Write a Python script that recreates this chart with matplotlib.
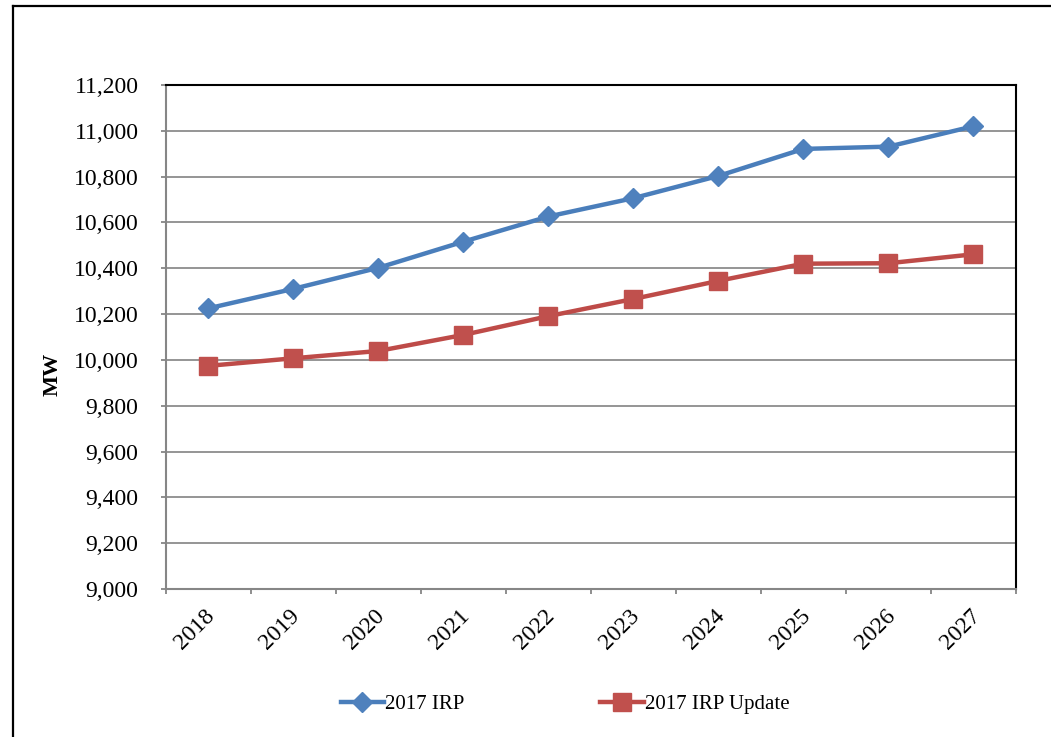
import matplotlib
matplotlib.use("Agg")
import matplotlib.pyplot as plt
from matplotlib.lines import Line2D
from matplotlib.ticker import FuncFormatter, FixedLocator
from matplotlib.transforms import ScaledTranslation

years = ["2018", "2019", "2020", "2021", "2022", "2023", "2024", "2025", "2026", "2027"]
irp_2017 = [10225, 10310, 10402, 10516, 10626, 10706, 10803, 10921, 10931, 11020]
irp_update = [9974, 10007, 10039, 10109, 10191, 10266, 10345, 10420, 10422, 10461]
series_names = ["2017 IRP", "2017 IRP Update"]
y_label = "MW"

plt.rcParams['font.family'] = ['Liberation Serif', 'DejaVu Serif']

W, H = 1051, 737
fig = plt.figure(figsize=(W / 100, H / 100), dpi=100)
ax = fig.add_axes([165.7 / W, 1 - 589 / H, (1016 - 165.7) / W, (589 - 85) / H])

x = list(range(len(years)))
blue = "#4A7EBB"
red = "#BE4B48"
l1, = ax.plot(x, irp_2017, color=blue, lw=3.2, marker='D', markersize=10.5,
              markerfacecolor="#4F81BD", markeredgecolor="#4F81BD", label=series_names[0], zorder=3)
l2, = ax.plot(x, irp_update, color=red, lw=3.2, marker='s', markersize=12.5,
              markerfacecolor="#C0504D", markeredgecolor="#C0504D", label=series_names[1], zorder=3)

ax.set_xlim(-0.5, len(years) - 0.5)
ax.set_ylim(9000, 11200)
ax.set_yticks(range(9000, 11201, 200))
ax.yaxis.set_major_formatter(FuncFormatter(lambda v, p: f"{int(v):,}"))
ax.grid(axis='y', color="#8C8C8C", lw=1.3)
ax.set_axisbelow(True)

# category boundaries as major ticks, labels at centers
ax.xaxis.set_major_locator(FixedLocator([i - 0.5 for i in range(len(years) + 1)]))
ax.set_xticklabels([""] * (len(years) + 1))
ax.set_xticks(x, minor=True)
ax.set_xticklabels(years, minor=True, rotation=45, ha='right', va='top',
                   rotation_mode='anchor', fontsize=17)
ax.tick_params(axis='x', which='minor', length=0, pad=12)
ax.tick_params(axis='x', which='major', length=3.6, color="#868686", width=1.3, direction='out')
ax.tick_params(axis='y', length=3.6, color="#868686", width=1.3, labelsize=17, pad=16)
for lab in ax.get_xticklabels(minor=True):
    lab.set_transform(lab.get_transform() + ScaledTranslation(-4 / 100, 0, fig.dpi_scale_trans))

for s in ['left', 'bottom']:
    ax.spines[s].set_color("#868686")
    ax.spines[s].set_linewidth(1.5)
for s in ['top', 'right']:
    ax.spines[s].set_color("#000000")
    ax.spines[s].set_linewidth(1.5)

ax.set_ylabel(y_label, fontsize=16, fontweight='bold')
ax.yaxis.set_label_coords(-0.121, 0.425)

fig.legend(handles=[l1, l2], loc='center', bbox_to_anchor=(565 / W, 1 - 704 / H),
           ncol=2, frameon=False, fontsize=15, handlelength=2.1, handletextpad=0.05,
           columnspacing=6.5)

# outer frame (cropped)
fig.add_artist(Line2D([13 / W, 13 / W], [0, 1 - 6 / H], transform=fig.transFigure,
                      color='black', lw=1.6))
fig.add_artist(Line2D([13 / W, 1], [1 - 6 / H, 1 - 6 / H], transform=fig.transFigure,
                      color='black', lw=1.6))

fig.savefig("out.png", dpi=100)
